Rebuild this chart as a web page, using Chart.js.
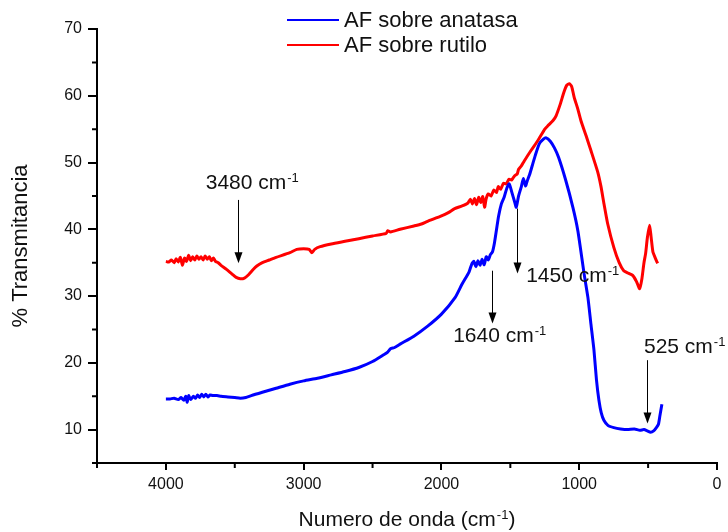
<!DOCTYPE html>
<html>
<head>
<meta charset="utf-8">
<script src="https://cdn.jsdelivr.net/npm/chart.js@4/dist/chart.umd.min.js"></script>
<style>
  html, body { margin: 0; padding: 0; background: #fff; }
  #wrap { width: 728px; height: 532px; }
</style>
</head>
<body>
<div id="wrap"><canvas id="chart-ir" width="728" height="532"></canvas></div>
<script>
// wavenumber (cm-1) and % transmittance
var waveAnatasa = [4000, 3970, 3940, 3910, 3890, 3870, 3855, 3845, 3835, 3820, 3800, 3785, 3770, 3755, 3740, 3725, 3710, 3695, 3680, 3660,
    3630, 3600, 3550, 3500, 3460, 3420, 3380, 3300, 3200, 3100, 3000, 2900, 2800, 2700, 2600, 2500, 2420, 2390, 2370, 2340,
    2300, 2200, 2100, 2000, 1900, 1850, 1800, 1780, 1765, 1750, 1735, 1720, 1705, 1690, 1675, 1660, 1645, 1630, 1615, 1600,
    1585, 1565, 1545, 1525, 1508, 1490, 1470, 1457, 1440, 1420, 1405, 1390, 1378, 1360, 1340, 1320, 1290, 1260, 1240, 1210,
    1180, 1150, 1100, 1046, 1010, 965, 937, 915, 893, 875, 857, 840, 821, 790, 749, 700, 650, 600, 560, 530,
    505, 482, 460, 440, 425, 415, 400];
var tAnatasa = [14.6, 14.6, 14.7, 14.5, 14.8, 14.4, 15.0, 14.1, 15.1, 14.5, 15.0, 14.7, 15.2, 14.8, 15.3, 14.9, 15.3, 14.9, 15.2, 15.1,
    15.1, 15.0, 14.9, 14.8, 14.7, 14.8, 15.1, 15.6, 16.2, 16.8, 17.3, 17.7, 18.2, 18.7, 19.3, 20.2, 21.2, 21.6, 22.1, 22.3,
    22.8, 24.0, 25.5, 27.3, 29.8, 31.8, 33.6, 34.8, 35.2, 34.4, 35.3, 34.6, 35.5, 34.7, 35.9, 35.4, 36.2, 36.6, 38.0, 40.0,
    42.0, 43.8, 44.8, 46.2, 46.8, 45.6, 44.2, 43.3, 45.0, 46.4, 47.6, 46.5, 47.2, 48.2, 49.6, 51.0, 52.8, 53.5, 53.7, 53.2,
    52.2, 50.8, 47.5, 43.3, 39.8, 33.4, 29.8, 25.8, 21.9, 17.5, 14.4, 12.5, 11.4, 10.6, 10.3, 10.1, 10.0, 10.1, 9.9, 10.0,
    9.8, 9.6, 9.8, 10.3, 10.8, 12.0, 13.8];

var waveRutilo = [4000, 3980, 3960, 3940, 3925, 3910, 3895, 3880, 3865, 3850, 3835, 3820, 3805, 3790, 3775, 3760, 3745, 3730, 3715, 3700,
    3685, 3670, 3655, 3640, 3620, 3600, 3560, 3520, 3490, 3460, 3430, 3400, 3370, 3340, 3300, 3250, 3200, 3100, 3050, 3000,
    2960, 2940, 2920, 2880, 2800, 2700, 2600, 2500, 2400, 2390, 2370, 2300, 2200, 2145, 2100, 2000, 1950, 1904, 1850, 1810,
    1790, 1775, 1760, 1745, 1730, 1715, 1700, 1687, 1675, 1660, 1640, 1620, 1600, 1588, 1570, 1550, 1530, 1510, 1490, 1470,
    1450, 1440, 1420, 1400, 1350, 1300, 1250, 1228, 1190, 1168, 1140, 1110, 1090, 1072, 1055, 1037, 1010, 988, 950, 915,
    866, 843, 820, 793, 749, 710, 677, 640, 612, 585, 561, 545, 530, 518, 505, 489, 478, 465, 450, 440, 431];
var tRutilo = [35.2, 35.1, 35.4, 35.0, 35.6, 35.1, 35.8, 34.6, 35.7, 35.2, 36.1, 35.3, 35.9, 35.4, 36.0, 35.5, 35.9, 35.4, 36.0, 35.5,
    35.9, 35.3, 35.7, 35.2, 35.0, 34.6, 34.0, 33.3, 32.8, 32.6, 32.7, 33.2, 33.9, 34.5, 35.0, 35.4, 35.8, 36.5, 37.0, 37.1,
    37.0, 36.5, 37.0, 37.4, 37.8, 38.2, 38.6, 39.0, 39.4, 39.8, 39.6, 40.0, 40.5, 40.8, 41.2, 42.0, 42.5, 43.1, 43.5, 43.9,
    44.5, 43.8, 44.6, 43.7, 44.8, 44.0, 44.9, 43.3, 44.6, 45.3, 45.0, 45.9, 45.5, 46.4, 46.0, 46.9, 46.8, 47.5, 47.4, 48.0,
    48.3, 49.0, 49.5, 50.2, 51.8, 53.3, 55.0, 55.5, 56.3, 57.0, 58.6, 60.6, 61.6, 61.8, 61.4, 59.8, 58.0, 56.3, 54.0, 51.8,
    48.6, 46.5, 43.8, 40.8, 37.3, 35.0, 33.8, 33.4, 33.1, 32.2, 31.1, 32.6, 35.0, 36.4, 38.8, 40.6, 38.8, 36.6, 35.8, 35.3, 34.9];

var seriesNames = ['AF sobre anatasa', 'AF sobre rutilo'];
var xMajorTicks = [4000, 3000, 2000, 1000, 0];
var yMajorTicks = [10, 20, 30, 40, 50, 60, 70];

// band labels: [wavenumber, arrow from, arrow to, label x, label y, text]
var bands = [
    [3475, 44.4, 34.9, 3711, 46.9, '3480'],
    [1633, 33.8, 25.9, 1915, 24.0, '1640'],
    [1450, 43.1, 33.4, 1385, 33.0, '1450'],
    [506, 20.4, 10.9, 530, 22.3, '525']
];

function toPoints(xs, ys) {
    return xs.map(function (x, i) { return { x: x, y: ys[i] }; });
}

var FONT = '"Liberation Sans", Arial, sans-serif';

function textWithSup(ctx, main, sup, x, y, size, align) {
    ctx.font = size + 'px ' + FONT;
    var w1 = ctx.measureText(main).width;
    ctx.font = Math.round(size * 0.62) + 'px ' + FONT;
    var w2 = ctx.measureText(sup).width;
    var x0 = align === 'center' ? x - (w1 + w2) / 2 : x;
    ctx.textAlign = 'left';
    ctx.textBaseline = 'middle';
    ctx.font = size + 'px ' + FONT;
    ctx.fillText(main, x0, y);
    ctx.font = Math.round(size * 0.62) + 'px ' + FONT;
    ctx.textBaseline = 'alphabetic';
    ctx.fillText(sup, x0 + w1 + 1, y - 1);
    return x0 + w1 + w2 + 1;
}

var extras = {
    id: 'extras',
    afterDraw: function (chart) {
        var ctx = chart.ctx;
        var xs = chart.scales.x, ys = chart.scales.y;
        var area = chart.chartArea;
        ctx.save();
        ctx.fillStyle = '#000';
        ctx.strokeStyle = '#000';

        // minor ticks
        ctx.lineWidth = 2;
        ctx.beginPath();
        xs.ticks.forEach(function (t) {
            if (xMajorTicks.indexOf(t.value) < 0) {
                var px = xs.getPixelForValue(t.value);
                ctx.moveTo(px, area.bottom);
                ctx.lineTo(px, area.bottom + 5);
            }
        });
        ys.ticks.forEach(function (t) {
            if (yMajorTicks.indexOf(t.value) < 0) {
                var py = ys.getPixelForValue(t.value);
                ctx.moveTo(area.left, py);
                ctx.lineTo(area.left - 5, py);
            }
        });
        ctx.stroke();

        // legend
        chart.data.datasets.forEach(function (ds, i) {
            var ly = 20 + i * 25;
            ctx.strokeStyle = ds.borderColor;
            ctx.lineWidth = 2;
            ctx.beginPath();
            ctx.moveTo(287, ly);
            ctx.lineTo(339, ly);
            ctx.stroke();
            ctx.fillStyle = '#111';
            ctx.font = '22px ' + FONT;
            ctx.textAlign = 'left';
            ctx.textBaseline = 'middle';
            ctx.fillText(ds.label, 344, ly + 1);
        });

        // axis titles
        ctx.fillStyle = '#111';
        var cx = (area.left + area.right) / 2;
        var end = textWithSup(ctx, 'Numero de onda (cm', '-1', cx - 4, 520, 21, 'center');
        ctx.font = '21px ' + FONT;
        ctx.textBaseline = 'middle';
        ctx.fillText(')', end, 520);

        ctx.save();
        ctx.translate(21, (area.top + area.bottom) / 2);
        ctx.rotate(-Math.PI / 2);
        ctx.font = '22px ' + FONT;
        ctx.textAlign = 'center';
        ctx.textBaseline = 'middle';
        ctx.fillText('% Transmitancia', 0, 0);
        ctx.restore();

        // band arrows and labels
        ctx.strokeStyle = '#000';
        ctx.fillStyle = '#000';
        bands.forEach(function (b) {
            var ax = Math.round(xs.getPixelForValue(b[0])) + 0.5;
            var y1 = ys.getPixelForValue(b[1]);
            var y2 = ys.getPixelForValue(b[2]);
            ctx.lineWidth = 1;
            ctx.beginPath();
            ctx.moveTo(ax, y1);
            ctx.lineTo(ax, y2 - 10);
            ctx.stroke();
            ctx.beginPath();
            ctx.moveTo(ax - 4, y2 - 11);
            ctx.lineTo(ax + 4, y2 - 11);
            ctx.lineTo(ax, y2);
            ctx.closePath();
            ctx.fill();
            ctx.fillStyle = '#111';
            textWithSup(ctx, b[5] + ' cm', '-1', xs.getPixelForValue(b[3]), ys.getPixelForValue(b[4]), 21, 'left');
            ctx.fillStyle = '#000';
        });
        ctx.restore();
    }
};

var ctxIr = document.getElementById('chart-ir').getContext('2d');
var chartIr = new Chart(ctxIr, {
    type: 'line',
    data: {
        datasets: [{
            label: seriesNames[0],
            data: toPoints(waveAnatasa, tAnatasa),
            borderColor: '#0000ff',
            borderWidth: 3,
            pointRadius: 0,
            tension: 0.2,
            fill: false
        }, {
            label: seriesNames[1],
            data: toPoints(waveRutilo, tRutilo),
            borderColor: '#ff0000',
            borderWidth: 3,
            pointRadius: 0,
            tension: 0.2,
            fill: false
        }]
    },
    options: {
        responsive: false,
        animation: false,
        layout: { padding: { top: 29, right: 11, left: 0, bottom: 0 } },
        plugins: { legend: { display: false }, title: { display: false }, tooltip: { enabled: false } },
        scales: {
            x: {
                type: 'linear',
                reverse: true,
                min: 0,
                max: 4500,
                afterFit: function (s) { s.height = 69; },
                border: { color: '#000', width: 2 },
                grid: {
                    drawOnChartArea: false,
                    tickLength: 7,
                    lineWidth: 2,
                    tickColor: function (c) { return c.tick && xMajorTicks.indexOf(c.tick.value) >= 0 ? '#000' : 'rgba(0,0,0,0)'; }
                },
                ticks: {
                    stepSize: 500,
                    autoSkip: false,
                    maxRotation: 0,
                    padding: 5,
                    color: '#111',
                    font: { family: FONT, size: 16 },
                    callback: function (v) { return xMajorTicks.indexOf(v) >= 0 ? String(v) : ''; }
                }
            },
            y: {
                min: 5,
                max: 70,
                afterFit: function (s) { s.width = 97; },
                border: { color: '#000', width: 2 },
                grid: {
                    drawOnChartArea: false,
                    tickLength: 9,
                    lineWidth: 2,
                    tickColor: function (c) { return c.tick && yMajorTicks.indexOf(c.tick.value) >= 0 ? '#000' : 'rgba(0,0,0,0)'; }
                },
                ticks: {
                    stepSize: 5,
                    autoSkip: false,
                    padding: 6,
                    color: '#111',
                    font: { family: FONT, size: 16 },
                    callback: function (v) { return yMajorTicks.indexOf(v) >= 0 ? String(v) : ''; }
                }
            }
        }
    },
    plugins: [extras]
});
</script>
</body>
</html>
